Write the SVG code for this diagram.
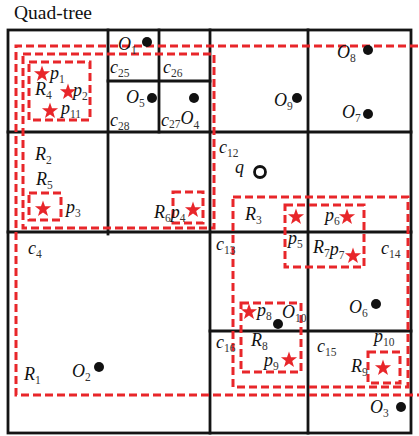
<svg xmlns="http://www.w3.org/2000/svg" xmlns:xlink="http://www.w3.org/1999/xlink" width="419" height="436" viewBox="0 0 419 436">
<style>
.grid{fill:none;stroke:#141414;stroke-width:2.8;stroke-linecap:square}
.reg{fill:none;stroke:#e8262a;stroke-width:3;stroke-dasharray:8 4}
.star{fill:#e8262a}
.obj{fill:#111}
.t{font-family:"Liberation Serif",serif;font-style:italic;font-size:18px;fill:#111}
.s{font-style:normal;font-size:11.5px;fill:#333}
.title{font-family:"Liberation Serif",serif;font-size:19.5px;fill:#111}
</style>
<defs>
<path id="star" d="M0,-8.5 L2,-2.75 L8.08,-2.63 L3.23,1.05 L5,6.88 L0,3.4 L-5,6.88 L-3.23,1.05 L-8.08,-2.63 L-2,-2.75 Z"/>
</defs>
<rect width="419" height="436" fill="#fff"/>
<text class="title" x="14" y="19">Quad-tree</text>
<g id="grid" class="grid">
<rect x="8" y="30" width="403" height="403"/>
<line x1="210" y1="30" x2="210" y2="433"/>
<line x1="8" y1="232" x2="411" y2="232"/>
<line x1="108" y1="30" x2="108" y2="234"/>
<line x1="8" y1="132" x2="411" y2="132"/>
<line x1="159" y1="30" x2="159" y2="132"/>
<line x1="108" y1="81" x2="210" y2="81"/>
<line x1="308" y1="30" x2="308" y2="433"/>
<line x1="210" y1="331" x2="411" y2="331"/>
</g>
<g id="regions" class="reg">
<path id="R1" d="M430,46 H16 V395 H430"/>
<rect id="R2" x="23" y="54" width="191" height="174"/>
<rect id="R4" x="29" y="62" width="61" height="58"/>
<rect id="R5" x="29" y="193" width="32" height="27"/>
<rect id="R6" x="173" y="192" width="30" height="31"/>
<rect id="R3" x="233" y="197" width="175" height="190"/>
<rect id="R7" x="285" y="205" width="79" height="62"/>
<rect id="R8" x="241" y="303" width="60" height="69"/>
<rect id="R9" x="368" y="352" width="32" height="31"/>
</g>
<g id="points" class="star">
<use id="p1" xlink:href="#star" x="42" y="74"/>
<use id="p2" xlink:href="#star" x="68" y="92"/>
<use id="p11" xlink:href="#star" x="50" y="111"/>
<use id="p3" xlink:href="#star" x="43" y="209"/>
<use id="p4" xlink:href="#star" x="193" y="210"/>
<use id="p5" xlink:href="#star" x="296" y="217"/>
<use id="p6" xlink:href="#star" x="347" y="217"/>
<use id="p7" xlink:href="#star" x="353" y="256"/>
<use id="p8" xlink:href="#star" x="249" y="312"/>
<use id="p9" xlink:href="#star" x="289" y="360"/>
<use id="p10" xlink:href="#star" x="383" y="368"/>
</g>
<g id="objects" class="obj">
<circle id="O1" cx="147" cy="42" r="5"/>
<circle id="O5" cx="152" cy="98" r="5"/>
<circle id="O4" cx="194" cy="98" r="5"/>
<circle id="O8" cx="368" cy="50" r="5"/>
<circle id="O9" cx="297" cy="98" r="5"/>
<circle id="O7" cx="368" cy="114" r="5"/>
<circle id="O2" cx="99" cy="367" r="5"/>
<circle id="O6" cx="376" cy="304" r="5"/>
<circle id="O10" cx="278" cy="324" r="5"/>
<circle id="O3" cx="401" cy="407" r="5"/>
</g>
<g id="query">
<circle cx="260" cy="172" r="5.5" fill="none" stroke="#111" stroke-width="2.8"/>
</g>
<g id="labels" class="t">
<text x="118" y="50">O<tspan class="s" dy="4">1</tspan></text>
<text x="110" y="73">c<tspan class="s" dy="4">25</tspan></text>
<text x="163" y="73">c<tspan class="s" dy="4">26</tspan></text>
<text x="126" y="103">O<tspan class="s" dy="4">5</tspan></text>
<text x="110" y="126">c<tspan class="s" dy="4">28</tspan></text>
<text x="161" y="126">c<tspan class="s" dy="2">27</tspan><tspan dy="-4">O</tspan><tspan class="s" dy="5">4</tspan></text>
<text x="35" y="95">R<tspan class="s" dy="4">4</tspan></text>
<text x="50" y="79">p<tspan class="s" dy="4">1</tspan></text>
<text x="73" y="96">p<tspan class="s" dy="4">2</tspan></text>
<text x="61" y="114">p<tspan class="s" dy="4">11</tspan></text>
<text x="337" y="58">O<tspan class="s" dy="4">8</tspan></text>
<text x="274" y="106">O<tspan class="s" dy="4">9</tspan></text>
<text x="342" y="118">O<tspan class="s" dy="4">7</tspan></text>
<text x="35" y="160">R<tspan class="s" dy="4">2</tspan></text>
<text x="36" y="185">R<tspan class="s" dy="4">5</tspan></text>
<text x="66" y="213">p<tspan class="s" dy="4">3</tspan></text>
<text x="154" y="218">R<tspan class="s" dy="4">6</tspan><tspan dy="-4">p</tspan><tspan class="s" dy="4">4</tspan></text>
<text x="219" y="153">c<tspan class="s" dy="4">12</tspan></text>
<text x="235" y="173">q</text>
<text x="245" y="220">R<tspan class="s" dy="4">3</tspan></text>
<text x="325" y="221">p<tspan class="s" dy="4">6</tspan></text>
<text x="288" y="244">p<tspan class="s" dy="4">5</tspan></text>
<text x="216" y="250">c<tspan class="s" dy="4">13</tspan></text>
<text x="313" y="253">R<tspan class="s" dy="4">7</tspan><tspan dy="-2">p</tspan><tspan class="s" dy="4">7</tspan></text>
<text x="381" y="254">c<tspan class="s" dy="4">14</tspan></text>
<text x="349" y="313">O<tspan class="s" dy="4">6</tspan></text>
<text x="257" y="316">p<tspan class="s" dy="4">8</tspan></text>
<text x="282" y="318">O<tspan class="s" dy="4">10</tspan></text>
<text x="28" y="254">c<tspan class="s" dy="4">4</tspan></text>
<text x="24" y="380">R<tspan class="s" dy="4">1</tspan></text>
<text x="72" y="377">O<tspan class="s" dy="4">2</tspan></text>
<text x="216" y="348">c<tspan class="s" dy="4">16</tspan></text>
<text x="251" y="346">R<tspan class="s" dy="4">8</tspan></text>
<text x="264" y="366">p<tspan class="s" dy="4">9</tspan></text>
<text x="317" y="352">c<tspan class="s" dy="4">15</tspan></text>
<text x="374" y="342">p<tspan class="s" dy="4">10</tspan></text>
<text x="351" y="372">R<tspan class="s" dy="4">9</tspan></text>
<text x="370" y="413">O<tspan class="s" dy="4">3</tspan></text>
</g>
</svg>
